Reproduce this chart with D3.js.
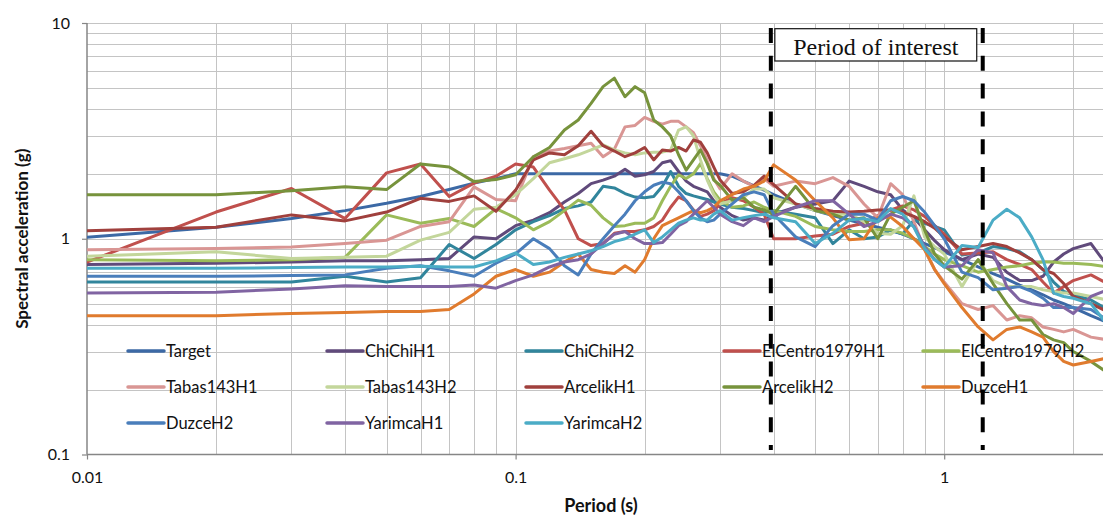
<!DOCTYPE html>
<html>
<head>
<meta charset="utf-8">
<script src="https://cdn.jsdelivr.net/npm/d3@7/dist/d3.min.js"></script>
<style>
  body { margin: 0; background: #fff; }
  svg { display: block; }
  text { font-family: Lato, "Liberation Sans", sans-serif; fill: #111; }
  text.serif { font-family: "Liberation Serif", "Times New Roman", serif; }
</style>
</head>
<body>
<svg id="chart" width="1103" height="517"></svg>
<script>
// Periods (s) at which every spectrum is sampled
const periods = [0.01,0.02,0.03,0.04,0.05,0.06,0.07,0.08,0.09,0.1,
  0.11,0.12,0.13,0.14,0.15,0.16,0.17,0.18,0.19,0.2,
  0.21,0.22,0.23,0.24,0.25,0.26,0.27,0.28,0.29,0.3,
  0.32,0.34,0.36,0.38,0.4,0.45,0.5,0.55,0.6,0.65,
  0.7,0.75,0.8,0.85,0.9,0.95,1.0,1.1,1.2,1.3,
  1.4,1.5,1.6,1.7,1.8,1.9,2.0,2.2,2.4,2.6];

// Spectral acceleration (g), one array per record
const target = [1.015,1.13,1.24,1.35,1.46,1.57,1.69,1.81,1.9,2.0,
  2.0,2.0,2.0,2.0,2.0,2.0,2.0,2.0,2.0,2.0,
  2.0,2.0,2.0,2.0,2.0,2.0,2.0,2.0,2.0,2.0,
  1.95,1.85,1.76,1.68,1.6,1.45,1.35,1.28,1.22,1.17,
  1.13,1.09,1.05,1.0,0.95,0.91,0.87,0.8,0.74,0.69,
  0.65,0.61,0.58,0.55,0.52,0.5,0.48,0.44,0.41,0.38];
const chiChiH1 = [0.76,0.77,0.78,0.79,0.79,0.8,0.81,1.02,1.0,1.15,
  1.22,1.32,1.48,1.62,1.8,1.87,1.95,2.1,1.95,1.98,
  2.05,2.25,2.3,2.05,1.85,1.75,1.7,1.65,1.5,1.4,
  1.28,1.22,1.25,1.22,1.3,1.4,1.45,1.5,1.85,1.75,
  1.65,1.6,1.36,1.25,1.1,0.98,0.89,0.8,0.85,0.82,
  0.7,0.64,0.64,0.67,0.78,0.85,0.9,0.95,0.75,0.7];
const chiChiH2 = [0.63,0.63,0.63,0.67,0.63,0.66,0.94,0.81,0.94,1.1,
  1.2,1.28,1.38,1.42,1.48,1.75,1.72,1.62,1.56,1.55,
  1.57,1.75,2.05,1.75,1.62,1.58,1.55,1.52,1.48,1.45,
  1.4,1.38,1.35,1.32,1.35,1.3,1.25,0.95,1.1,1.0,
  1.02,1.1,1.05,1.22,1.18,1.14,1.1,0.84,0.86,0.92,
  0.9,0.87,0.8,0.72,0.63,0.57,0.55,0.52,0.47,0.44];
const elCentroH1 = [0.78,1.33,1.71,1.24,2.02,2.22,1.57,1.81,1.95,2.22,
  2.15,1.68,1.36,1.0,0.93,0.95,1.06,1.08,1.08,1.1,
  1.14,1.22,1.4,1.56,1.5,1.36,1.27,1.3,1.35,1.45,
  1.55,1.5,1.4,1.3,1.0,1.0,1.03,1.05,1.14,1.18,
  1.28,1.36,1.42,1.36,1.27,1.15,1.05,0.85,0.86,0.87,
  0.8,0.76,0.72,0.63,0.56,0.6,0.64,0.68,0.62,0.6];
const elCentroH2 = [0.8,0.79,0.8,0.82,1.29,1.18,1.24,1.14,1.38,1.25,
  1.1,1.2,1.35,1.51,1.43,1.25,1.14,1.15,1.18,1.18,
  1.25,1.5,1.75,1.98,1.9,2.0,2.23,1.9,1.65,1.51,
  1.4,1.42,1.48,1.4,1.35,1.27,1.14,1.1,1.08,1.08,
  1.1,1.1,1.06,1.0,0.92,0.85,0.8,0.75,0.7,0.72,
  0.74,0.75,0.77,0.78,0.78,0.77,0.77,0.76,0.74,0.73];
const tabasH1 = [0.89,0.9,0.915,0.95,0.985,1.14,1.2,1.74,1.52,1.5,
  2.4,2.55,2.62,2.7,2.77,2.4,2.6,3.3,3.35,3.65,
  3.5,3.4,3.5,3.5,3.3,3.1,2.7,2.3,1.9,1.7,
  2.0,1.85,1.75,1.9,1.75,1.85,1.8,1.92,1.75,1.45,
  1.25,1.8,1.6,1.2,0.89,0.72,0.63,0.5,0.47,0.49,
  0.42,0.44,0.43,0.39,0.38,0.37,0.38,0.35,0.34,0.33];
const tabasH2 = [0.83,0.87,0.81,0.82,0.83,0.985,1.07,1.37,1.4,1.6,
  1.9,2.25,2.35,2.45,2.58,2.72,2.58,2.5,2.45,2.5,
  2.52,2.52,2.58,3.19,3.3,3.0,2.32,1.87,1.6,1.45,
  1.5,1.55,1.7,1.7,1.55,1.45,1.35,1.3,1.3,1.2,
  1.06,1.05,1.15,1.58,1.02,0.92,0.85,0.6,0.8,0.64,
  0.6,0.6,0.6,0.58,0.57,0.56,0.56,0.54,0.52,0.5];
const arcelikH1 = [1.09,1.13,1.29,1.21,1.33,1.54,1.49,1.58,1.34,1.68,
  2.32,2.5,2.45,2.7,3.15,2.7,2.55,2.4,2.5,2.65,
  2.32,2.58,2.55,2.65,2.55,2.87,2.8,2.5,2.15,1.87,
  1.62,1.65,1.77,1.95,1.78,1.45,1.38,1.34,1.33,1.34,
  1.36,1.36,1.33,1.27,1.2,1.12,1.02,0.89,0.92,0.95,
  0.92,0.86,0.8,0.72,0.69,0.62,0.54,0.5,0.46,0.44];
const arcelikH2 = [1.6,1.6,1.67,1.74,1.69,2.22,2.15,1.84,1.88,1.98,
  2.4,2.65,3.19,3.55,4.24,5.07,5.55,4.55,5.07,4.75,
  3.55,3.3,3.0,2.45,2.08,2.32,2.58,2.23,1.87,1.77,
  1.51,1.55,1.4,1.36,1.3,1.75,1.35,1.3,1.22,1.25,
  1.0,1.3,1.4,1.5,1.1,0.85,0.75,0.65,0.8,0.62,
  0.5,0.42,0.42,0.36,0.34,0.33,0.3,0.27,0.24,0.24];
const duzceH1 = [0.44,0.44,0.45,0.455,0.46,0.46,0.47,0.555,0.67,0.72,
  0.67,0.7,0.78,0.85,0.72,0.7,0.69,0.75,0.7,0.8,
  1.0,1.15,1.2,1.25,1.3,1.35,1.32,1.35,1.4,1.5,
  1.6,1.7,1.75,1.85,2.2,1.87,1.5,1.25,0.99,1.0,
  1.25,1.26,1.14,1.0,0.89,0.72,0.62,0.48,0.39,0.34,
  0.38,0.39,0.37,0.35,0.3,0.27,0.26,0.27,0.28,0.28];
const duzceH2 = [0.67,0.67,0.675,0.68,0.73,0.75,0.71,0.67,0.77,0.85,
  1.0,0.9,0.75,0.68,0.85,1.0,1.15,1.3,1.5,1.65,
  1.77,1.83,1.8,1.65,1.5,1.35,1.25,1.2,1.22,1.3,
  1.45,1.6,1.65,1.6,1.3,1.02,0.92,1.15,1.3,1.3,
  1.22,1.5,1.57,1.5,1.33,1.15,1.0,0.7,0.66,0.58,
  0.59,0.6,0.57,0.53,0.48,0.48,0.48,0.47,0.42,0.4];
const yarimcaH1 = [0.56,0.565,0.585,0.605,0.6,0.6,0.6,0.61,0.59,0.64,
  0.68,0.74,0.78,0.8,0.85,0.95,1.05,1.08,1.0,0.95,
  0.95,0.96,1.05,1.15,1.2,1.3,1.4,1.5,1.4,1.3,
  1.2,1.15,1.25,1.2,1.27,1.4,1.5,1.5,1.3,1.14,
  1.2,1.3,1.25,1.14,0.92,0.8,0.74,0.75,0.89,0.86,
  0.6,0.52,0.5,0.49,0.5,0.48,0.45,0.54,0.58,0.6];
const yarimcaH2 = [0.73,0.73,0.735,0.74,0.74,0.745,0.74,0.74,0.79,0.86,
  0.76,0.78,0.82,0.85,0.88,0.92,0.97,1.0,1.05,1.1,
  0.96,1.02,1.1,1.18,1.22,1.25,1.22,1.22,1.3,1.35,
  1.22,1.25,1.28,1.3,1.25,1.2,0.95,1.06,1.22,1.24,
  1.2,1.38,1.3,1.13,0.9,0.8,0.74,0.93,0.91,1.22,
  1.37,1.25,1.02,0.8,0.56,0.54,0.53,0.5,0.4,0.37];

const seriesNames = ["Target","ChiChiH1","ChiChiH2","ElCentro1979H1","ElCentro1979H2",
  "Tabas143H1","Tabas143H2","ArcelikH1","ArcelikH2","DuzceH1",
  "DuzceH2","YarimcaH1","YarimcaH2"];
const seriesValues = [target, chiChiH1, chiChiH2, elCentroH1, elCentroH2,
  tabasH1, tabasH2, arcelikH1, arcelikH2, duzceH1,
  duzceH2, yarimcaH1, yarimcaH2];
const seriesColors = ["#3C69A5","#604A7B","#31859C","#C0504D","#9BBB59",
  "#D99694","#C3D69B","#A0403D","#77933C","#E07B2E",
  "#4A7EBB","#8064A2","#4BACC6"];

const xTickValues = [0.01, 0.1, 1];
const yTickValues = [0.1, 1, 10];
const interestBounds = [0.394, 1.23];
const interestLabel = "Period of interest";

// ---- layout ----
const svg = d3.select("#chart");
const W = 1103, H = 517;
const plot = { left: 87, top: 23, bottom: 454.5, right: W };
const decadePx = 428.6;

const x = d3.scaleLog().domain([0.01, 10]).range([plot.left, plot.left + 3 * decadePx]);
const y = d3.scaleLog().domain([0.1, 10]).range([plot.bottom, plot.top]);

svg.append("rect").attr("width", W).attr("height", H).attr("fill", "#fff");

svg.append("clipPath").attr("id", "plotClip")
  .append("rect").attr("x", plot.left).attr("y", plot.top - 2)
  .attr("width", plot.right - plot.left).attr("height", plot.bottom - plot.top + 2);

// gridlines at every 1..9 step of each decade
const gridColor = "#c4c4c4";
const grid = svg.append("g").attr("clip-path", "url(#plotClip)");
const xGridVals = [];
[0.01, 0.1, 1].forEach(d => { for (let k = 1; k <= 9; k++) xGridVals.push(d * k); });
xGridVals.push(10);
const yGridVals = [];
[0.1, 1].forEach(d => { for (let k = 1; k <= 9; k++) yGridVals.push(d * k); });
yGridVals.push(10);

grid.selectAll("line.xg").data(xGridVals.filter(v => v > 0.01)).join("line")
  .attr("x1", d => Math.round(x(d)) + 0.5).attr("x2", d => Math.round(x(d)) + 0.5)
  .attr("y1", plot.top).attr("y2", plot.bottom)
  .attr("stroke", gridColor).attr("stroke-width", 1);
grid.selectAll("line.yg").data(yGridVals.filter(v => v > 0.1)).join("line")
  .attr("x1", plot.left).attr("x2", plot.right)
  .attr("y1", d => Math.round(y(d)) + 0.5).attr("y2", d => Math.round(y(d)) + 0.5)
  .attr("stroke", gridColor).attr("stroke-width", 1);

// axes
const axisColor = "#868686";
const yAxis = svg.append("g").attr("transform", `translate(${plot.left},0)`)
  .call(d3.axisLeft(y).tickValues(yTickValues).tickFormat(d3.format("~g"))
    .tickSize(5).tickPadding(12));
const xAxis = svg.append("g").attr("transform", `translate(0,${plot.bottom})`)
  .call(d3.axisBottom(x).tickValues(xTickValues).tickFormat(d3.format("~g"))
    .tickSize(5).tickPadding(12));
[xAxis, yAxis].forEach(g => {
  g.select(".domain").attr("stroke", axisColor).attr("stroke-width", 1.5);
  g.selectAll(".tick line").attr("stroke", axisColor).attr("stroke-width", 1.2);
  g.selectAll(".tick text").attr("font-size", 16).attr("fill", "#111");
});
xAxis.select(".domain").attr("d", `M${plot.left},0H${plot.right}`);
yAxis.select(".domain").attr("d", `M0,${plot.top}V${plot.bottom}`);

// spectra
const line = d3.line()
  .x((d, i) => x(periods[i]))
  .y(d => y(d));
const lines = svg.append("g").attr("clip-path", "url(#plotClip)");
seriesValues.forEach((vals, s) => {
  lines.append("path")
    .attr("d", line(vals))
    .attr("fill", "none")
    .attr("stroke", seriesColors[s])
    .attr("stroke-width", 3)
    .attr("stroke-linejoin", "round")
    .attr("stroke-linecap", "round");
});

// legend (5 columns x 3 rows)
const legendCols = [128, 327, 526, 724, 923];
const legendRows = [351, 387, 423];
const legend = svg.append("g");
seriesNames.forEach((name, i) => {
  const lx = legendCols[i % 5], ly = legendRows[Math.floor(i / 5)];
  legend.append("line")
    .attr("x1", lx).attr("x2", lx + 36).attr("y1", ly).attr("y2", ly)
    .attr("stroke", seriesColors[i]).attr("stroke-width", 3.5)
    .attr("stroke-linecap", "round");
  legend.append("text")
    .attr("x", lx + 38).attr("y", ly).attr("dy", "0.36em")
    .attr("font-size", 16.5).text(name);
});

// period-of-interest markers
const interest = svg.append("g");
interestBounds.forEach(p => {
  interest.append("line")
    .attr("x1", x(p)).attr("x2", x(p))
    .attr("y1", 28).attr("y2", 450)
    .attr("stroke", "#000").attr("stroke-width", 4)
    .attr("stroke-dasharray", "15,12.8");
});
const boxL = x(interestBounds[0]) + 4, boxR = x(interestBounds[1]) - 6;
interest.append("rect")
  .attr("x", boxL).attr("y", 28.7)
  .attr("width", boxR - boxL).attr("height", 32.3)
  .attr("fill", "#fff").attr("stroke", "#111").attr("stroke-width", 1.2);
interest.append("text")
  .attr("class", "serif")
  .attr("x", (boxL + boxR) / 2).attr("y", 55)
  .attr("text-anchor", "middle")
  .attr("font-size", 24)
  .text(interestLabel);

// axis titles
svg.append("text")
  .attr("x", 601).attr("y", 512)
  .attr("text-anchor", "middle")
  .attr("font-weight", "bold").attr("font-size", 18)
  .text("Period (s)");
svg.append("text")
  .attr("transform", `translate(28,${(plot.top + plot.bottom) / 2}) rotate(-90)`)
  .attr("text-anchor", "middle")
  .attr("font-weight", "bold").attr("font-size", 17)
  .text("Spectral acceleration (g)");
</script>
</body>
</html>
